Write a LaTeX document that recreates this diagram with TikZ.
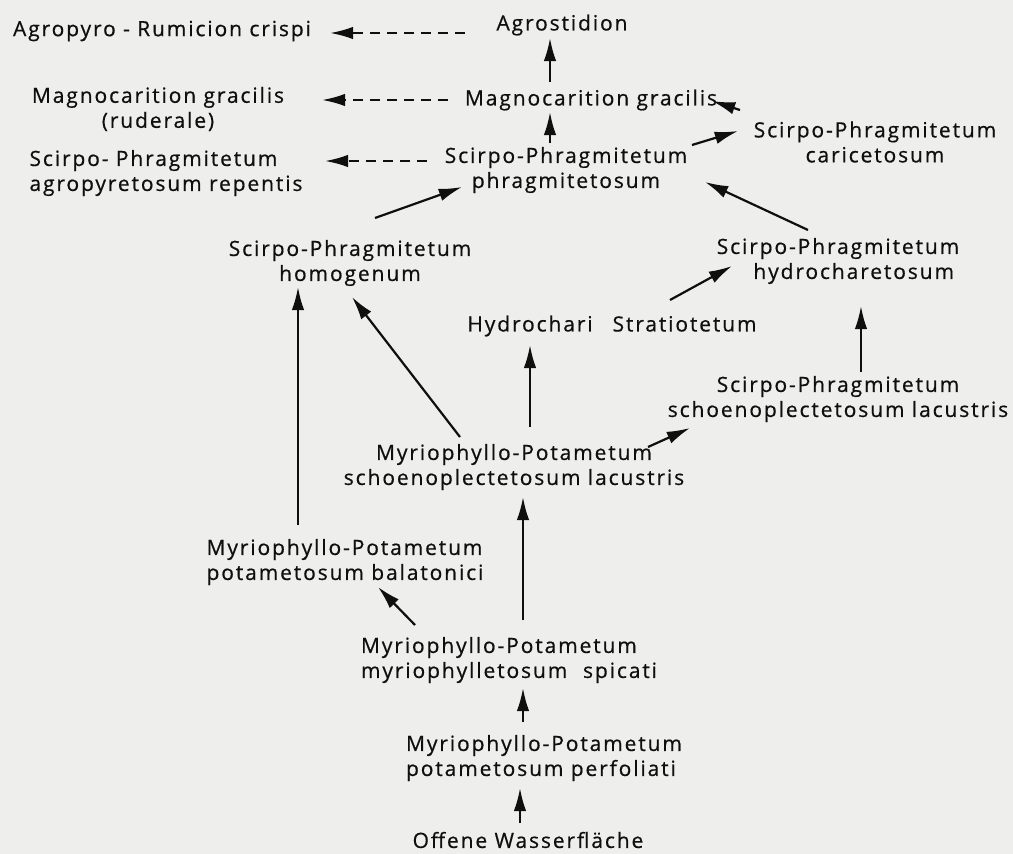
\documentclass[tikz,border=0pt]{standalone}
\usepackage{fontspec}
\setmainfont{Open Sans}[LetterSpace=9, FakeBold=0.6]
\usetikzlibrary{arrows.meta}
\definecolor{paper}{RGB}{238,238,236}
\definecolor{ink}{RGB}{15,15,15}
\tikzset{
  lbl/.style={inner sep=0pt, align=center, text=ink, font=\fontsize{21}{25}\selectfont},
  lbll/.style={lbl, align=left},
  arr/.style={draw=ink, line width=2.2pt, >={Latex[scale length=1.8, scale width=1.3]}, ->},
  darr/.style={arr, dash pattern=on 10pt off 7pt}
}
\begin{document}
\begin{tikzpicture}[x=1pt,y=-1pt]
\fill[paper] (0,0) rectangle (1013,854);
\useasboundingbox (0,0) rectangle (1013,854);

\node[lbl] (agrop) at (162,31) {Agropyro - Rumicion crispi};
\node[lbl] (agros) at (562,25) {Agrostidion};
\node[lbl] (magl) at (158,109) {Magnocarition gracilis\\(ruderale)};
\node[lbl] (magm) at (591,100) {Magnocarition gracilis};
\node[lbl] (caric) at (875,142) {Scirpo-Phragmitetum\\caricetosum};
\node[lbll] (agrrep) at (166,173) {Scirpo- Phragmitetum\\agropyretosum repentis};
\node[lbl] (phrag) at (566,170) {Scirpo-Phragmitetum\\phragmitetosum};
\node[lbl] (homog) at (350,263) {Scirpo-Phragmitetum\\homogenum};
\node[lbl] (hydrc) at (838,261) {Scirpo-Phragmitetum\\\hspace*{1.5em}hydrocharetosum};
\node[lbl] (hydst) at (612,326) {Hydrochari\hspace{0.6em} Stratiotetum};
\node[lbl] (sschoen) at (838,399) {Scirpo-Phragmitetum\\schoenoplectetosum lacustris};
\node[lbl] (mschoen) at (514,467) {Myriophyllo-Potametum\\schoenoplectetosum lacustris};
\node[lbll] (balat) at (345,562) {Myriophyllo-Potametum\\potametosum balatonici};
\node[lbll] (spic) at (509,660) {Myriophyllo-Potametum\\myriophylletosum\hspace{0.4em} spicati};
\node[lbll] (perf) at (544,758) {Myriophyllo-Potametum\\potametosum perfoliati};
\node[lbl] (offene) at (528,840) {Offene Wasserfläche};

% dashed
\draw[darr] ([shift={(-97,8)}]agros.center) -- ([shift={(168,2)}]agrop.center);
\draw[darr] ([shift={(-143,0)}]magm.center) -- ([shift={(164,-9)}]magl.center);
\draw[darr] ([shift={(-139,-9)}]phrag.center) -- ([shift={(159,-12)}]agrrep.center);
% solid
\draw[arr] ([shift={(-41,-18)}]magm.center) -- ([shift={(-12,13)}]agros.center);
\draw[arr] ([shift={(-16,-27)}]phrag.center) -- ([shift={(-41,12)}]magm.center);
\draw[arr] ([shift={(126,-25)}]phrag.center) -- ([shift={(-137,-11)}]caric.center);
\draw[arr] ([shift={(-135,-32)}]caric.center) -- ([shift={(121,1)}]magm.center);
\draw[arr] ([shift={(25,-45)}]homog.center) -- ([shift={(-104,17)}]phrag.center);
\draw[arr] ([shift={(-30,-31)}]hydrc.center) -- ([shift={(139,12)}]phrag.center);
\draw[arr] ([shift={(58,-26)}]hydst.center) -- ([shift={(-106,5)}]hydrc.center);
\draw[arr] ([shift={(23,-27)}]sschoen.center) -- ([shift={(23,45)}]hydrc.center);
\draw[arr] ([shift={(16,-40)}]mschoen.center) -- ([shift={(-82,19)}]hydst.center);
\draw[arr] ([shift={(-54,-30)}]mschoen.center) -- ([shift={(2,34)}]homog.center);
\draw[arr] ([shift={(134,-20)}]mschoen.center) -- ([shift={(-148,29)}]sschoen.center);
\draw[arr] ([shift={(-47,-37)}]balat.center) -- ([shift={(-52,24)}]homog.center);
\draw[arr] ([shift={(14,-40)}]spic.center) -- ([shift={(9,30)}]mschoen.center);
\draw[arr] ([shift={(-94,-35)}]spic.center) -- ([shift={(33,25)}]balat.center);
\draw[arr] ([shift={(-21,-36)}]perf.center) -- ([shift={(14,28)}]spic.center);
\draw[arr] ([shift={(-8,-17)}]offene.center) -- ([shift={(-24,30)}]perf.center);
\end{tikzpicture}
\end{document}
